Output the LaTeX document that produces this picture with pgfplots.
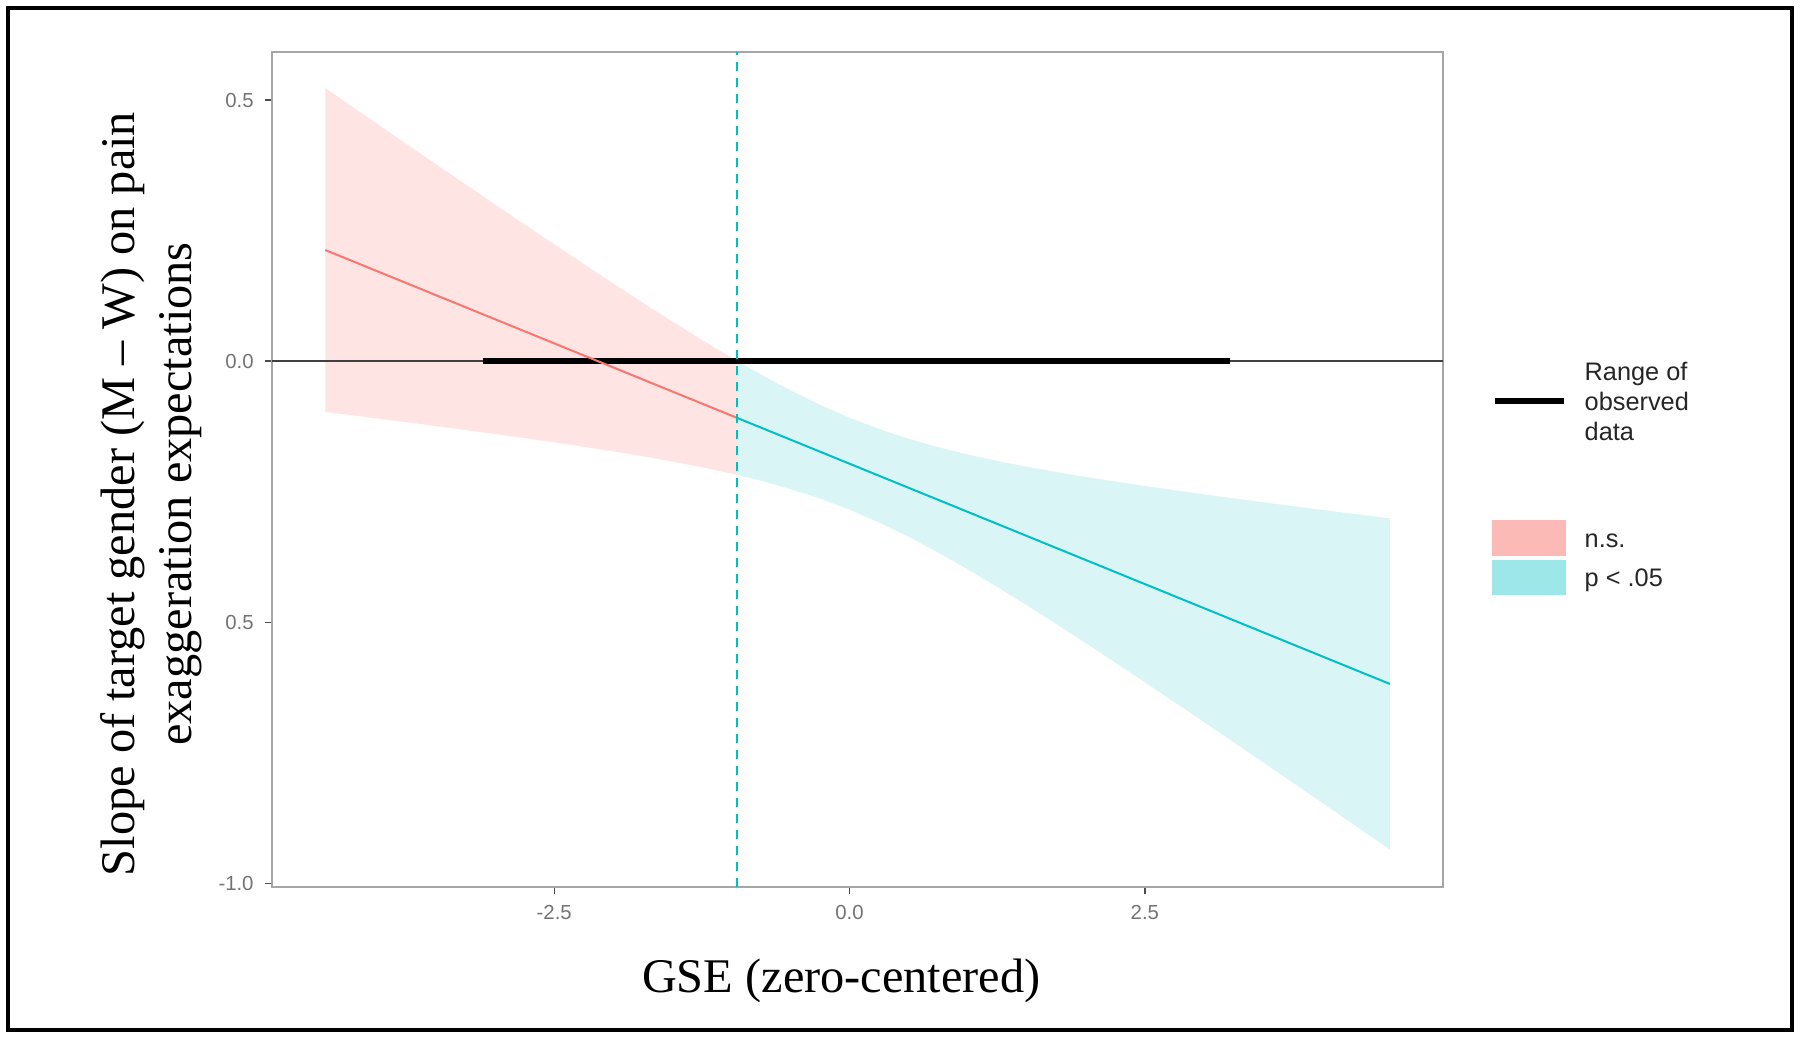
\documentclass[border=0pt]{standalone}
\usepackage{pgfplots}
\pgfplotsset{compat=1.18}
\usepackage{fontspec}
\setmainfont{Liberation Serif}
\newfontfamily\arial{Liberation Sans}
\definecolor{nsred}{HTML}{F8766D}
\definecolor{sigteal}{HTML}{00BFC4}
\begin{document}
\begin{tikzpicture}[x=1pt,y=1pt]
\useasboundingbox (0,0) rectangle (540,311.7);
\draw[line width=1.1pt] (2.4,2.7) rectangle (537.6,309.3);
\begin{axis}[
 at={(81.6pt,45.6pt)}, anchor=south west,
 scale only axis, width=351.3pt, height=250.5pt,
 xmin=-4.889, xmax=5.024, ymin=-1.007, ymax=0.592,
 xtick={-2.5,0,2.5}, xticklabels={-2.5,0.0,2.5},
 ytick={-1,-0.5,0,0.5}, yticklabels={-1.0,0.5,0.0,0.5},
 tick align=outside, tick pos=left, major tick length=2pt,
 axis line style={draw=gray!70, line width=0.5pt},
 tick style={gray!60!black, line width=0.4pt},
 ticklabel style={font=\arial\fontsize{6.1}{7}\selectfont, text=black!55},
 /pgf/number format/assume math mode=true,
]
\addplot[draw=none, fill=nsred, fill opacity=0.2] coordinates {
(-4.438,0.5228) (-4.25,0.4934) (-4,0.4545) (-3.75,0.4156) (-3.5,0.3769) (-3.25,0.3383) (-3,0.2998) (-2.75,0.2616) (-2.5,0.2236) (-2.25,0.1859) (-2,0.1487) (-1.75,0.1119) (-1.5,0.0759) (-1.25,0.0407) (-0.95,0.0)
(-0.95,-0.2178) (-1.25,-0.2030) (-1.5,-0.1921) (-1.75,-0.1820) (-2,-0.1727) (-2.25,-0.1638) (-2.5,-0.1554) (-2.75,-0.1473) (-3,-0.1394) (-3.25,-0.1318) (-3.5,-0.1243) (-3.75,-0.1169) (-4,-0.1097) (-4.25,-0.1025) (-4.438,-0.0972)
(-4.438,0.5228)};
\addplot[draw=none, fill=sigteal, fill opacity=0.15] coordinates {
(-0.95,0.0) (-0.75,-0.0256) (-0.5,-0.0559) (-0.25,-0.0836) (0,-0.1084) (0.25,-0.1301) (0.5,-0.1487) (0.75,-0.1647) (1,-0.1787) (1.25,-0.1910) (1.5,-0.2020) (1.75,-0.2122) (2,-0.2216) (2.25,-0.2305) (2.5,-0.2390) (2.75,-0.2471) (3,-0.2550) (3.25,-0.2627) (3.5,-0.2702) (3.75,-0.2776) (4,-0.2848) (4.25,-0.2920) (4.574,-0.3011)
(4.574,-0.9351) (4.25,-0.8845) (4,-0.8456) (3.75,-0.8067) (3.5,-0.7680) (3.25,-0.7294) (3,-0.6910) (2.75,-0.6528) (2.5,-0.6148) (2.25,-0.5772) (2,-0.5400) (1.75,-0.5033) (1.5,-0.4674) (1.25,-0.4323) (1,-0.3985) (0.75,-0.3664) (0.5,-0.3363) (0.25,-0.3089) (0,-0.2844) (-0.25,-0.2631) (-0.5,-0.2447) (-0.75,-0.2290) (-0.95,-0.2178)
(-0.95,0.0)};
\addplot[black!75, line width=0.5pt] coordinates {(-4.889,0) (5.024,0)};
\addplot[black, line width=1.7pt] coordinates {(-3.10,0) (3.217,0)};
\addplot[nsred, line width=0.6pt] coordinates {(-4.438,0.2128) (-0.95,-0.1088)};
\addplot[sigteal, line width=0.6pt] coordinates {(-0.95,-0.1088) (4.574,-0.6181)};
\addplot[sigteal, line width=0.5pt, dash pattern=on 2.8pt off 2pt] coordinates {(-0.95,-1.007) (-0.95,0.592)};
\end{axis}
% y label
\node[rotate=90, align=center, font=\fontsize{14.5}{17.2}\selectfont] at (45.4,163.5)
 {Slope of target gender (M -- W) on pain\\exaggeration expectations};
% x label
\node[font=\fontsize{14.5}{17}\selectfont] at (252.4,17.4) {GSE (zero-centered)};
% legend
\draw[black, line width=1.7pt] (448.5,191.4) -- (469.2,191.4);
\node[anchor=west, align=left, font=\arial\fontsize{7.6}{9}\selectfont, text=black!85, inner sep=0pt] at (475.2,191.4) {Range of\\observed\\data};
\fill[nsred!50] (447.6,144.9) rectangle (469.8,155.7);
\fill[sigteal!38] (447.6,133.2) rectangle (469.8,143.7);
\node[anchor=west, font=\arial\fontsize{7.6}{9}\selectfont, text=black!85, inner sep=0pt] at (475.2,149.4) {n.s.};
\node[anchor=west, font=\arial\fontsize{7.6}{9}\selectfont, text=black!85, inner sep=0pt] at (475.2,137.7) {p < .05};
\end{tikzpicture}
\end{document}
